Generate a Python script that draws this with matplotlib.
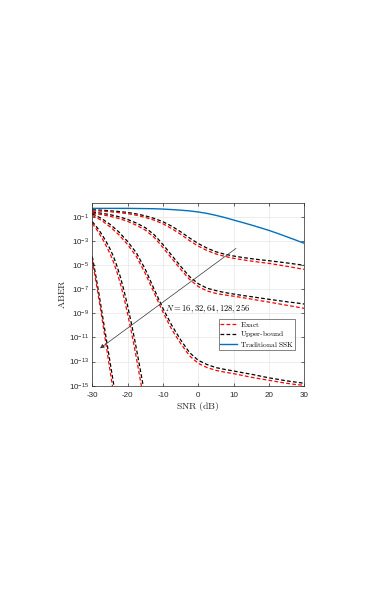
import numpy as np
import matplotlib
matplotlib.use("Agg")
import matplotlib.pyplot as plt

plt.rcParams['mathtext.fontset'] = 'cm'
plt.rcParams['font.family'] = ['Liberation Sans', 'DejaVu Sans']

# ---- data (log10 of ABER) ----
snr_ssk = [-30, -27.5, -25, -22.5, -20, -17.5, -15, -12.5, -10, -7.5, -5, -2.5, 0,
           2.5, 5, 7.5, 10, 12.5, 15, 17.5, 20, 22.5, 25, 27.5, 30]
ssk_log = [-0.30, -0.30, -0.30, -0.30, -0.30, -0.31, -0.32, -0.33, -0.36, -0.40, -0.45, -0.51, -0.60,
           -0.72, -0.88, -1.06, -1.27, -1.47, -1.68, -1.90, -2.13, -2.38, -2.65, -2.92, -3.20]

snr_a = [-30, -27.5, -25, -22.5, -20, -17.5, -15, -12.5, -10, -7.5, -5, -2.5, 0,
         2.5, 5, 7.5, 10, 12.5, 15, 17.5, 20, 22.5, 25, 27.5, 30]
bound_a = [-0.42, -0.45, -0.50, -0.56, -0.64, -0.76, -0.92, -1.13, -1.41, -1.78, -2.24, -2.75, -3.22,
           -3.60, -3.90, -4.10, -4.25, -4.37, -4.47, -4.56, -4.64, -4.73, -4.82, -4.92, -5.02]
exact_a = [-0.50, -0.53, -0.58, -0.65, -0.74, -0.87, -1.05, -1.28, -1.58, -1.98, -2.45, -2.97, -3.43,
           -3.80, -4.08, -4.28, -4.44, -4.56, -4.67, -4.77, -4.86, -4.98, -5.10, -5.23, -5.36]

snr_b = [-30, -27.5, -25, -22.5, -20, -17.5, -15, -12.5, -10, -7.5, -5, -2.5, 0,
         2.5, 5, 7.5, 10, 12.5, 15, 17.5, 20, 22.5, 25, 27.5, 30]
bound_b = [-0.60, -0.70, -0.82, -0.99, -1.22, -1.52, -1.90, -2.48, -3.30, -4.20, -5.10, -5.95, -6.55,
           -6.92, -7.12, -7.28, -7.40, -7.52, -7.62, -7.73, -7.84, -7.94, -8.04, -8.13, -8.23]
exact_b = [-0.70, -0.81, -0.95, -1.14, -1.38, -1.70, -2.10, -2.70, -3.55, -4.45, -5.35, -6.18, -6.78,
           -7.15, -7.35, -7.48, -7.58, -7.70, -7.82, -7.95, -8.07, -8.20, -8.33, -8.46, -8.59]

snr_c = [-30, -27.5, -25, -22.5, -20, -17.5, -15, -12.5, -10, -7.5, -5, -2.5, 0,
         2.5, 5, 7.5, 10, 12.5, 15, 17.5, 20, 22.5, 25, 27.5, 30]
bound_c = [-0.75, -1.12, -1.62, -2.25, -3.05, -4.00, -5.35, -7.00, -8.60, -10.00, -11.20, -12.25, -12.90,
           -13.25, -13.50, -13.65, -13.78, -13.92, -14.05, -14.20, -14.35, -14.47, -14.60, -14.70, -14.80]
exact_c = [-0.88, -1.28, -1.82, -2.48, -3.30, -4.30, -5.70, -7.30, -8.90, -10.35, -11.50, -12.52, -13.15,
           -13.50, -13.73, -13.88, -14.00, -14.15, -14.30, -14.43, -14.55, -14.68, -14.80, -14.90, -14.97]

snr_d = [-30, -29, -28, -27, -26, -25, -24, -23, -22, -21, -20, -19, -18, -17, -16, -15]
bound_d = [-1.40, -1.75, -2.15, -2.60, -3.10, -3.65, -4.30, -5.10, -6.05, -7.15, -8.40, -9.75, -11.20, -12.75, -14.35, -16.00]
exact_d = [-1.55, -1.95, -2.40, -2.90, -3.45, -4.05, -4.75, -5.60, -6.60, -7.75, -9.05, -10.45, -11.95, -13.55, -15.20, -16.90]

snr_e = [-30, -29.5, -29, -28.5, -28, -27.5, -27, -26.5, -26, -25.5, -25, -24.5, -24, -23.5, -23]
bound_e = [-4.30, -5.10, -5.90, -6.75, -7.60, -8.50, -9.40, -10.30, -11.20, -12.10, -13.00, -13.90, -14.80, -15.70, -16.60]
exact_e = [-4.60, -5.45, -6.30, -7.15, -8.05, -8.95, -9.90, -10.85, -11.80, -12.75, -13.70, -14.65, -15.60, -16.55, -17.50]

x_ticks = [-30, -20, -10, 0, 10, 20, 30]
y_tick_exp = [-15, -13, -11, -9, -7, -5, -3, -1]

fig = plt.figure(figsize=(3.87, 5.99), dpi=100)
ax = fig.add_axes([0.2385, 0.3561, 0.5478, 0.3045])

red = '#ff0000'
blk = '#000000'
lw = 0.9
dash = (0, (3.0, 1.8))

pairs = [(snr_a, exact_a, bound_a), (snr_b, exact_b, bound_b), (snr_c, exact_c, bound_c),
         (snr_d, exact_d, bound_d), (snr_e, exact_e, bound_e)]
for i, (s, ex, ub) in enumerate(pairs):
    ax.plot(s, 10.0 ** np.array(ub), color=blk, lw=lw, ls=dash,
            label=r'$\mathrm{Upper\text{-}bound}$' if i == 0 else None)
    ax.plot(s, 10.0 ** np.array(ex), color=red, lw=lw, ls=dash,
            label=r'$\mathrm{Exact}$' if i == 0 else None)
ax.plot(snr_ssk, 10.0 ** np.array(ssk_log), color='#0072BD', lw=1.0,
        label=r'$\mathrm{Traditional\ SSK}$')

ax.set_yscale('log')
ax.set_xlim(-30, 30)
ax.set_ylim(1e-15, 10 ** 0.12)
ax.set_xticks(x_ticks)
ax.set_xticklabels([str(v) for v in x_ticks])
ax.set_yticks([10.0 ** e for e in y_tick_exp])
ax.set_yticklabels([r'$\mathregular{10^{%d}}$' % e for e in y_tick_exp])
ax.yaxis.set_minor_locator(matplotlib.ticker.NullLocator())
ax.tick_params(direction='in', labelsize=5.8, length=2.5, width=0.5,
               top=True, right=True, colors='#262626')
ax.tick_params(axis='x', pad=4.5)
ax.tick_params(axis='y', pad=2.5)
ax.grid(True, color='#e6e6e6', lw=0.5)
ax.set_axisbelow(True)
for sp in ax.spines.values():
    sp.set_linewidth(0.5)
    sp.set_color('#262626')

ax.set_xlabel(r'$\mathrm{SNR\ (dB)}$', fontsize=7, labelpad=1, color='#262626')
ax.set_ylabel(r'$\mathrm{ABER}$', fontsize=7, labelpad=1, color='#262626')

ax.annotate('', xy=(-27.8, 10 ** -11.9), xytext=(10.67, 10 ** -3.62),
            arrowprops=dict(arrowstyle='-|>', color='#333333', lw=0.5,
                            mutation_scale=6, shrinkA=0, shrinkB=0))
ax.text(-9.4, 10 ** -8.65, r'$N=16,32,64,128,256$', fontsize=6.2, ha='left', va='center')

handles, labels = ax.get_legend_handles_labels()
order = [1, 0, 2]
leg = ax.legend([handles[i] for i in order], [labels[i] for i in order],
                loc='upper left', bbox_to_anchor=(0.598, 0.366), fontsize=5.3,
                handlelength=2.3, handletextpad=0.35, borderpad=0.15, borderaxespad=0,
                labelspacing=0.05, frameon=True, fancybox=False, edgecolor='#262626')
leg.get_frame().set_linewidth(0.5)

fig.savefig('out.png', dpi=100)
